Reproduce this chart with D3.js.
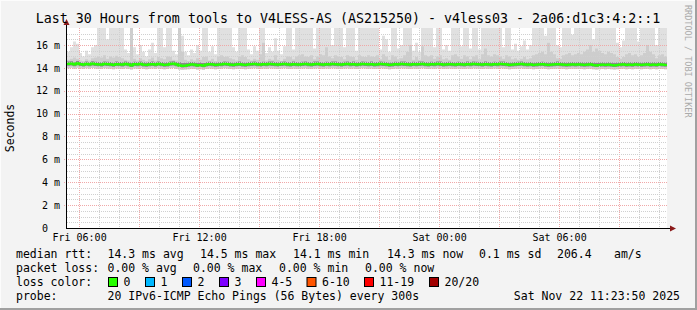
<!DOCTYPE html>
<html><head><meta charset="utf-8">
<script src="https://cdn.jsdelivr.net/npm/d3@7/dist/d3.min.js"></script>
<style>
body{margin:0;background:#f3f3f3}
svg{display:block}
text{font-family:"DejaVu Sans Mono",monospace;fill:#000}
</style>
</head><body>
<svg id="c" width="697" height="310"></svg>
<script>
// ---- data: 9-minute columns, values in milliseconds ----
const maxRtt = [
15.4,15.8,16.3,16.1,15.3,15.0,15.5,15.2,15.8,16.0,
17.6,17.6,17.6,16.5,17.6,17.6,17.6,17.6,17.6,15.6,
15.3,17.6,15.8,15.2,16.0,15.4,15.0,15.6,16.2,15.3,
17.6,17.6,15.8,17.6,17.6,15.5,15.2,17.6,16.8,15.4,
15.1,15.6,15.3,16.0,15.5,17.6,17.6,15.4,15.9,15.2,
17.6,17.6,17.6,17.6,17.6,15.8,15.4,17.6,17.6,17.6,
15.6,15.2,15.9,15.5,17.6,17.6,15.3,15.8,15.4,16.6,
15.5,15.2,15.9,17.6,17.6,15.6,17.6,17.6,17.6,17.6,
17.6,17.6,15.7,17.6,17.6,17.6,17.6,17.6,16.0,17.6,
17.6,17.6,15.8,17.6,17.6,17.6,15.5,17.6,17.6,17.6,
17.6,17.6,17.6,17.6,15.6,16.8,16.5,15.4,17.6,17.6,
15.7,16.0,17.6,17.6,17.6,15.5,16.2,15.4,17.6,17.6,
17.6,17.6,15.8,17.6,17.6,15.6,16.0,15.5,17.6,17.6,
17.6,15.9,17.6,17.6,15.7,17.6,17.6,15.6,17.6,17.6,
17.6,17.6,17.6,17.6,17.6,15.8,17.6,17.6,15.6,16.1,
15.5,15.9,16.4,15.6,16.0,17.6,17.6,17.6,17.6,16.8,
17.6,17.6,17.6,16.0,15.8,17.6,17.6,17.6,16.9,17.6,
17.6,17.6,17.6,17.6,17.6,16.5,17.6,17.6,17.6,17.6,
17.6,17.6,17.6,16.2,15.8,16.4,17.6,17.6,17.6,17.6,
16.3,17.6,17.6,17.6,17.6,17.6,16.0,17.6,17.6,17.6];
const p90Rtt = [
14.70,14.80,14.90,14.80,14.65,14.60,14.75,14.65,14.85,14.90,
15.00,14.90,15.10,14.80,15.00,14.90,15.05,14.95,14.85,14.70,
14.65,17.60,14.80,14.65,14.85,14.70,14.60,14.75,14.90,14.65,
14.95,14.85,14.75,15.00,14.95,14.70,14.65,17.60,15.40,14.70,
14.60,14.75,14.65,14.85,14.70,14.95,15.00,14.65,14.80,14.60,
15.00,15.10,14.95,15.00,14.85,14.75,14.65,15.00,15.10,14.95,
14.75,14.65,14.80,14.70,15.20,16.20,14.65,14.80,14.70,15.10,
14.70,14.60,14.80,15.00,14.95,14.75,15.00,15.10,15.20,15.00,
14.95,15.10,14.75,15.00,15.20,15.10,15.80,15.00,14.85,15.10,
15.00,14.95,14.75,15.10,15.00,14.95,14.70,15.10,15.00,14.95,
15.10,15.00,14.95,15.10,14.75,15.20,15.00,14.70,15.10,15.00,
14.75,14.85,15.10,15.40,16.00,14.70,14.95,14.70,15.90,15.10,
15.00,15.10,14.80,15.00,15.10,14.75,14.85,14.70,15.10,15.20,
15.00,14.80,15.10,15.00,14.75,15.00,15.10,14.75,15.20,15.70,
15.10,15.00,15.20,15.10,15.00,14.80,15.10,15.00,14.75,14.85,
14.70,14.80,14.95,14.75,14.85,15.10,15.20,15.30,15.40,15.20,
16.20,15.40,15.20,14.85,14.80,15.10,15.20,15.30,15.10,15.20,
15.30,15.20,15.40,15.60,16.00,15.40,15.70,15.50,15.30,15.20,
15.40,15.30,15.20,14.95,14.80,14.95,15.20,15.30,15.10,15.20,
14.95,15.10,15.30,16.00,15.40,15.20,14.85,15.10,15.20,15.00];
const q3Rtt = [
14.55,14.58,14.50,14.60,14.52,14.48,14.55,14.50,14.58,14.53,
14.52,14.50,14.56,14.54,14.52,14.46,14.55,14.52,14.50,14.56,
14.52,14.48,14.54,14.52,14.56,14.50,14.46,14.52,14.55,14.50,
14.56,14.52,14.46,14.50,14.56,14.58,14.52,14.50,14.42,14.44,
14.46,14.52,14.50,14.44,14.46,14.42,14.50,14.54,14.52,14.46,
14.50,14.52,14.56,14.54,14.50,14.46,14.52,14.55,14.50,14.46,
14.52,14.54,14.56,14.52,14.50,14.54,14.52,14.56,14.55,14.52,
14.50,14.54,14.56,14.52,14.50,14.55,14.52,14.50,14.54,14.56,
14.52,14.50,14.55,14.56,14.52,14.50,14.54,14.52,14.56,14.55,
14.52,14.50,14.54,14.56,14.52,14.55,14.50,14.52,14.56,14.54,
14.52,14.55,14.50,14.52,14.56,14.54,14.52,14.46,14.50,14.54,
14.52,14.56,14.55,14.52,14.50,14.54,14.52,14.55,14.56,14.52,
14.50,14.54,14.52,14.56,14.55,14.50,14.52,14.54,14.52,14.50,
14.54,14.52,14.50,14.55,14.52,14.56,14.54,14.52,14.50,14.55,
14.52,14.50,14.54,14.52,14.56,14.55,14.52,14.46,14.50,14.52,
14.54,14.56,14.52,14.50,14.52,14.46,14.50,14.52,14.54,14.50,
14.46,14.50,14.52,14.55,14.52,14.50,14.46,14.50,14.52,14.50,
14.52,14.50,14.46,14.50,14.52,14.46,14.44,14.46,14.50,14.46,
14.50,14.46,14.44,14.46,14.50,14.52,14.46,14.50,14.46,14.52,
14.50,14.46,14.50,14.52,14.46,14.50,14.46,14.52,14.50,14.46];
const medRtt = [
14.35,14.38,14.30,14.40,14.32,14.28,14.35,14.30,14.38,14.33,
14.30,14.28,14.35,14.32,14.30,14.25,14.33,14.30,14.28,14.35,
14.30,14.22,14.32,14.30,14.35,14.28,14.25,14.30,14.33,14.28,
14.35,14.30,14.25,14.28,14.35,14.38,14.30,14.22,14.18,14.20,
14.25,14.30,14.28,14.22,14.25,14.20,14.28,14.32,14.30,14.25,
14.28,14.30,14.35,14.32,14.28,14.25,14.30,14.33,14.28,14.25,
14.30,14.32,14.35,14.30,14.28,14.32,14.30,14.35,14.33,14.30,
14.28,14.32,14.35,14.30,14.28,14.33,14.30,14.28,14.32,14.35,
14.30,14.28,14.33,14.35,14.30,14.28,14.32,14.30,14.35,14.33,
14.30,14.28,14.32,14.35,14.30,14.33,14.28,14.30,14.35,14.32,
14.30,14.33,14.28,14.30,14.35,14.32,14.30,14.25,14.28,14.32,
14.30,14.35,14.33,14.30,14.28,14.32,14.30,14.33,14.35,14.30,
14.28,14.32,14.30,14.35,14.33,14.28,14.30,14.32,14.30,14.28,
14.32,14.30,14.28,14.33,14.30,14.35,14.32,14.30,14.28,14.33,
14.30,14.28,14.32,14.30,14.35,14.33,14.30,14.25,14.28,14.30,
14.32,14.35,14.30,14.28,14.30,14.25,14.28,14.30,14.32,14.28,
14.25,14.28,14.30,14.33,14.30,14.28,14.25,14.28,14.30,14.28,
14.30,14.28,14.25,14.28,14.30,14.25,14.22,14.25,14.28,14.25,
14.28,14.25,14.22,14.25,14.28,14.30,14.25,14.28,14.25,14.30,
14.28,14.25,14.28,14.30,14.25,14.28,14.25,14.30,14.28,14.25];
const q1Rtt = [
14.18,14.20,14.14,14.22,14.16,14.12,14.18,14.14,14.20,14.16,
14.14,14.12,14.18,14.16,14.14,14.10,14.16,14.14,14.12,14.18,
14.14,14.08,14.16,14.14,14.18,14.12,14.10,14.14,14.16,14.12,
14.18,14.14,14.10,14.12,14.18,14.20,14.14,14.08,14.04,14.06,
14.10,14.14,14.12,14.08,14.10,14.06,14.12,14.16,14.14,14.10,
14.12,14.14,14.18,14.16,14.12,14.10,14.14,14.16,14.12,14.10,
14.14,14.16,14.18,14.14,14.12,14.16,14.14,14.18,14.16,14.14,
14.12,14.16,14.18,14.14,14.12,14.16,14.14,14.12,14.16,14.18,
14.14,14.12,14.16,14.18,14.14,14.12,14.16,14.14,14.18,14.16,
14.14,14.12,14.16,14.18,14.14,14.16,14.12,14.14,14.18,14.16,
14.14,14.16,14.12,14.14,14.18,14.16,14.14,14.10,14.12,14.16,
14.14,14.18,14.16,14.14,14.12,14.16,14.14,14.16,14.18,14.14,
14.12,14.16,14.14,14.18,14.16,14.12,14.14,14.16,14.14,14.12,
14.16,14.14,14.12,14.16,14.14,14.18,14.16,14.14,14.12,14.16,
14.14,14.12,14.16,14.14,14.18,14.16,14.14,14.10,14.12,14.14,
14.16,14.18,14.14,14.12,14.14,14.10,14.12,14.14,14.16,14.12,
14.10,14.12,14.14,14.16,14.14,14.12,14.10,14.12,14.14,14.12,
14.14,14.12,14.10,14.12,14.14,14.10,14.08,14.10,14.12,14.10,
14.12,14.10,14.08,14.10,14.12,14.14,14.10,14.12,14.10,14.14,
14.12,14.10,14.12,14.14,14.10,14.12,14.10,14.14,14.12,14.10];
const minRtt = [
13.96,14.00,13.92,14.02,13.94,13.90,13.96,13.92,13.98,13.94,
13.92,13.90,13.96,13.94,13.92,13.88,13.94,13.92,13.90,13.96,
13.92,13.86,13.94,13.92,13.96,13.90,13.88,13.92,13.94,13.90,
13.96,13.92,13.88,13.90,13.96,13.98,13.92,13.86,13.84,13.86,
13.88,13.92,13.90,13.86,13.88,13.84,13.90,13.94,13.92,13.88,
13.90,13.92,13.96,13.94,13.90,13.88,13.92,13.94,13.90,13.88,
13.92,13.94,13.96,13.92,13.90,13.94,13.92,13.96,13.94,13.92,
13.90,13.94,13.96,13.92,13.90,13.94,13.92,13.90,13.94,13.96,
13.92,13.90,13.94,13.96,13.92,13.90,13.94,13.92,13.96,13.94,
13.92,13.90,13.94,13.96,13.92,13.94,13.90,13.92,13.96,13.94,
13.92,13.94,13.90,13.92,13.96,13.94,13.92,13.88,13.90,13.94,
13.92,13.96,13.94,13.92,13.90,13.94,13.92,13.94,13.96,13.92,
13.90,13.94,13.92,13.96,13.94,13.90,13.92,13.94,13.92,13.90,
13.94,13.92,13.90,13.94,13.92,13.96,13.94,13.92,13.90,13.94,
13.92,13.90,13.94,13.92,13.96,13.94,13.92,13.88,13.90,13.92,
13.94,13.96,13.92,13.90,13.92,13.88,13.90,13.92,13.94,13.90,
13.88,13.90,13.92,13.94,13.92,13.90,13.88,13.90,13.92,13.90,
13.92,13.90,13.88,13.90,13.92,13.88,13.86,13.88,13.90,13.88,
13.90,13.88,13.86,13.88,13.90,13.92,13.88,13.90,13.88,13.92,
13.90,13.88,13.90,13.92,13.88,13.90,13.88,13.92,13.90,13.88];

const yTickValues = [0,2,4,6,8,10,12,14,16];
const title = "Last 30 Hours from tools to V4LESS-AS (AS215250) - v4less03 - 2a06:d1c3:4:2::1";
const lossLabels = ["0","1","2","3","4-5","6-10","11-19","20/20"];
const lossColors = ["#26ff00","#00b8ff","#0059ff","#7e00ff","#ff00ff","#ff5500","#ff0000","#a10000"];
const rttStats = ["14.3 ms avg","14.5 ms max","14.1 ms min","14.3 ms now","0.1 ms sd","206.4","am/s"];
const lossStats = ["0.00 % avg","0.00 % max","0.00 % min","0.00 % now"];
const probeText = "20 IPv6-ICMP Echo Pings (56 Bytes) every 300s";
const stampText = "Sat Nov 22 11:23:50 2025";

// ---- layout ----
const X0 = 67, X1 = 667, Y0 = 228, Y1 = 28;
const tEnd = new Date(2025,10,22,11,23,50);
const tStart = new Date(tEnd.getTime() - 30*3600*1000);
const STEP = 9*60*1000;

const svg = d3.select("#c");
const x = d3.scaleTime().domain([tStart,tEnd]).range([X0,X1]);
const y = d3.scaleLinear().domain([0,17.486]).range([Y0,Y1]);

// frame
svg.append("rect").attr("width",697).attr("height",310).attr("fill","#f3f3f3");
svg.append("line").attr("x1",0).attr("x2",697).attr("y1",0.5).attr("y2",0.5).attr("stroke","#fcfcfc");
svg.append("line").attr("x1",0.5).attr("x2",0.5).attr("y1",0).attr("y2",310).attr("stroke","#fcfcfc");
svg.append("rect").attr("x",695).attr("y",0).attr("width",2).attr("height",310).attr("fill","#a0a0a0");
svg.append("rect").attr("x",0).attr("y",308).attr("width",697).attr("height",2).attr("fill","#a0a0a0");

// canvas
svg.append("rect").attr("x",X0).attr("y",Y1).attr("width",X1-X0).attr("height",Y0-Y1).attr("fill","#ffffff");

// data points
const pts = maxRtt.map((v,i)=>({t:new Date(tStart.getTime()+i*STEP), i}));
pts.push({t:tEnd, i:maxRtt.length-1});
const clipY = v => Math.max(y(v), Y1);
const band = (loA,hiA) => d3.area().curve(d3.curveStepAfter)
  .x(d=>x(d.t)).y0(d=>y(loA[d.i])).y1(d=>clipY(hiA[d.i]));

const g = svg.append("g");
g.append("path").datum(pts).attr("d",band(minRtt,maxRtt)).attr("fill","#e0e0e0");
g.append("path").datum(pts).attr("d",band(minRtt,p90Rtt)).attr("fill","#cdcdcd");
g.append("path").datum(pts).attr("d",band(q1Rtt,q3Rtt)).attr("fill","#8a8a8a");

// grid
const gridG = svg.append("g");
const minorH = d3.timeHour.every(1).range(tStart,tEnd);
minorH.forEach(t=>{
  const major = t.getHours()%3===0;
  gridG.append("line").attr("x1",Math.round(x(t))+0.5).attr("x2",Math.round(x(t))+0.5)
    .attr("y1",Y1).attr("y2",Y0)
    .attr("stroke",major?"#f0a8a8":"#d0d0d0").attr("stroke-dasharray","1,1");
});
d3.range(0.5,17.5,0.5).forEach(v=>{
  const major = v%2===0;
  const yy = Math.round(y(v))+0.5;
  gridG.append("line").attr("x1",major?X0-3:X0).attr("x2",X1).attr("y1",yy).attr("y2",yy)
    .attr("stroke",major?"#f0a8a8":"#d0d0d0").attr("stroke-dasharray","1,1");
});

// median line
svg.append("path").datum(pts)
  .attr("d",d3.line().curve(d3.curveStepAfter).x(d=>x(d.t)).y(d=>y(medRtt[d.i])))
  .attr("fill","none").attr("stroke","#26ff00").attr("stroke-width",2.2);

// axes
const ax = svg.append("g");
ax.append("line").attr("x1",X0-0.5).attr("x2",X0-0.5).attr("y1",Y0+1).attr("y2",Y1-4).attr("stroke","#000");
ax.append("line").attr("x1",X0-1).attr("x2",X1+4).attr("y1",Y0+0.5).attr("y2",Y0+0.5).attr("stroke","#000");
ax.append("path").attr("d",`M${X0-3.5},${Y1-3} L${X0-0.5},${Y1-9} L${X0+2.5},${Y1-3} Z`).attr("fill","#8b1a1a");
ax.append("path").attr("d",`M${X1+3},${Y0-2.5} L${X1+9},${Y0+0.5} L${X1+3},${Y0+3.5} Z`).attr("fill","#8b1a1a");

// y labels
const yAxis = d3.axisLeft(y).tickValues(yTickValues).tickSize(0).tickPadding(6)
  .tickFormat(v=>v===0?"0":v+" m");
const yg = svg.append("g").attr("transform",`translate(${X0-1},0)`).call(yAxis);
yg.select(".domain").remove();
yg.selectAll("text").attr("font-size","10px").attr("font-family","DejaVu Sans Mono").attr("fill","#000");
yg.selectAll(".tick").filter(d=>d===0).select("text").attr("x",-18);

// x labels
const xAxis = d3.axisBottom(x).ticks(d3.timeHour.every(6)).tickSize(0).tickPadding(6)
  .tickFormat(d3.timeFormat("%a %H:%M"));
const xg = svg.append("g").attr("transform",`translate(0,${Y0})`).call(xAxis);
xg.select(".domain").remove();
xg.selectAll("text").attr("font-size","10px").attr("font-family","DejaVu Sans Mono").attr("fill","#000");

// title & y-title
svg.append("text").attr("x",348).attr("y",23).attr("text-anchor","middle").attr("font-size","13.3px").text(title);
svg.append("text").attr("transform","translate(14,128) rotate(-90)").attr("text-anchor","middle").attr("font-size","11.5px").text("Seconds");
svg.append("text").attr("transform","translate(685,5) rotate(90)").attr("font-size","8.5px").style("fill","#aaaaaa").text("RRDTOOL / TOBI OETIKER");

// legend
const L = svg.append("g").attr("font-size","11.5px");
const row = (yy, label, items) => {
  L.append("text").attr("x",16).attr("y",yy).text(label);
  items.forEach(([xx,t])=>L.append("text").attr("x",xx).attr("y",yy).text(t));
};
row(258,"median rtt:",[[107.5,rttStats[0]],[200,rttStats[1]],[293,rttStats[2]],[387,rttStats[3]],[479,rttStats[4]],[557,rttStats[5]],[614,rttStats[6]]]);
row(272,"packet loss:",[[107.5,lossStats[0]],[193,lossStats[1]],[279,lossStats[2]],[365,lossStats[3]]]);
row(286,"loss color:",[]);
const boxX = [108.5,145.5,182.5,219.5,256.5,307,364.5,429.5];
lossLabels.forEach((lab,i)=>{
  L.append("rect").attr("x",boxX[i]).attr("y",277.5).attr("width",9).attr("height",9)
    .attr("fill",lossColors[i]).attr("stroke","#000").attr("stroke-width",1);
  L.append("text").attr("x",boxX[i]+15).attr("y",286).text(lab);
});
row(300,"probe:",[[107.5,probeText]]);
L.append("text").attr("x",680).attr("y",300).attr("text-anchor","end").text(stampText);
</script>
</body></html>
